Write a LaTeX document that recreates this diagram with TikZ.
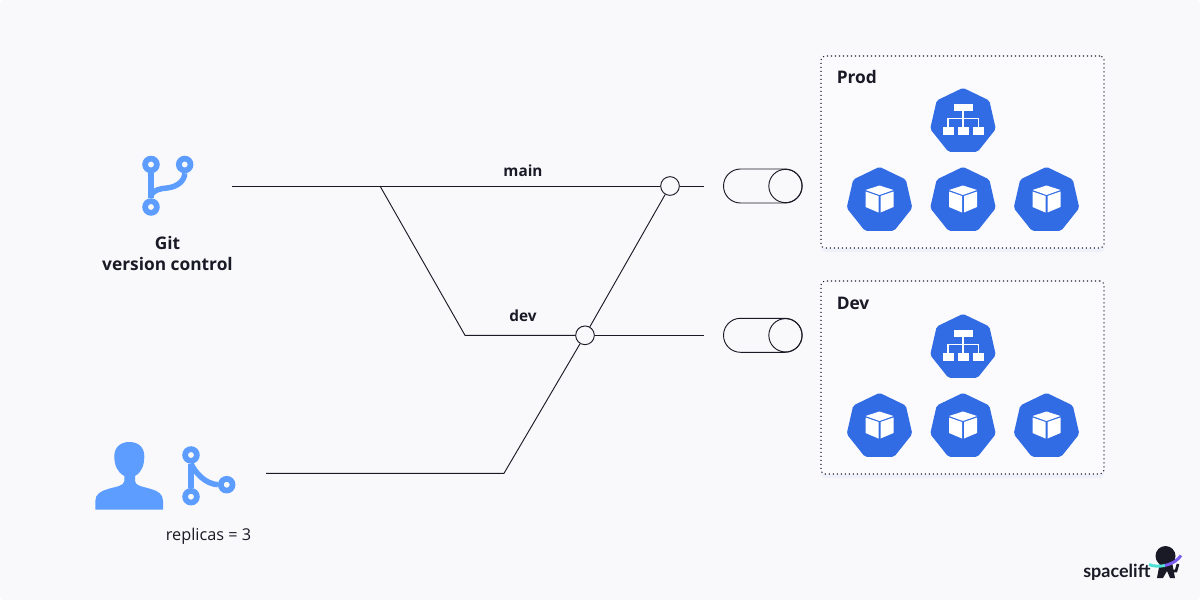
\documentclass[tikz,border=0pt]{standalone}
\usepackage{fontspec}
\setmainfont{Open Sans}
\newfontfamily\logofont{Lato}
\usetikzlibrary{shapes.geometric,shadows}
\definecolor{pagebg}{HTML}{F9F9FC}
\definecolor{boxbg}{HTML}{FBFBFE}
\definecolor{inkdark}{HTML}{1A1A26}
\definecolor{gitblue}{HTML}{5C9DFF}
\definecolor{kubeblue}{HTML}{326CE5}
\definecolor{logoteal}{HTML}{4FE0D6}
\definecolor{logopurple}{HTML}{7A5CF0}
\tikzset{
  podhept/.style={regular polygon, regular polygon sides=7, fill=kubeblue, minimum size=50.5pt, inner sep=0pt, outer sep=0pt, rounded corners=1.5pt},
  envbox/.style={draw=inkdark, fill=boxbg, dash pattern=on .8pt off 2.2pt, line width=.8pt, rounded corners=3pt, drop shadow={shadow xshift=0pt, shadow yshift=-3pt, opacity=.05, fill=kubeblue}},
  junction/.style={circle, draw=inkdark, fill=pagebg, line width=.7pt, minimum size=14pt, inner sep=0pt},
  capsule/.style={draw=inkdark, line width=.7pt, rounded corners=12.75pt},
  tankend/.style={circle, draw=inkdark, line width=.7pt, minimum size=25pt, inner sep=0pt},
  wire/.style={draw=inkdark, line width=.7pt},
  gitring/.style={circle, draw=gitblue, line width=4.3pt, fill=pagebg, minimum size=8.8pt, inner sep=0pt},
  gitstem/.style={draw=gitblue, line width=4.1pt},
  boldlabel/.style={font=\bfseries\fontsize{11.5}{15.75}\selectfont, text=inkdark, align=center},
  biglabel/.style={font=\bfseries\fontsize{13}{15.75}\selectfont, text=inkdark, align=center},
  cubeicon/.pic={
    \fill[white] (0,-15) -- (-14,-10.5) -- (0,-5.5) -- (14,-10.5) -- cycle;
    \fill[white] (-14,-9) -- (-1,-4.5) -- (-1,12) -- (-14,6.5) -- cycle;
    \fill[white] (14,-9) -- (1,-4.5) -- (1,12) -- (14,6.5) -- cycle;
  },
  treeicon/.pic={
    \fill[white] (-9,-18) rectangle (9.5,-10.5);
    \fill[white] (-20.5,5) rectangle (-9,13);
    \fill[white] (-5.5,5) rectangle (6,13);
    \fill[white] (9.5,5) rectangle (21,13);
    \draw[white, line width=1pt] (0,-11) -- (0,-3) (-15,5) -- (-15,-3) -- (15.2,-3) -- (15.2,5) (0,-3) -- (0,5);
  }
}
\begin{document}
\begin{tikzpicture}[x=.75pt, y=-.75pt]
   \useasboundingbox (0,0) rectangle (1200,600);
   \fill[white] (0,0) rectangle (1200,600);
   \fill[pagebg, rounded corners=3pt] (0,0) rectangle (1200,600);

   % environments
   \node[envbox, minimum width=212.25pt, minimum height=144pt, inner sep=0pt] (prodbox) at (962.5,152) {};
   \node[envbox, minimum width=212.25pt, minimum height=144.75pt, inner sep=0pt] (devbox) at (962.5,377.5) {};
   \node[biglabel, anchor=base west, inner sep=0pt] (prodlabel) at (836.5,83) {Prod};
   \node[biglabel, anchor=base west, inner sep=0pt] (devlabel) at (836.5,309) {Dev};

   \node[podhept] (prodlb) at (963,121.5) {};
   \node[podhept] (prodA) at (879.5,200.5) {};
   \node[podhept] (prodB) at (963,200.5) {};
   \node[podhept] (prodC) at (1046.5,200.5) {};
   \node[podhept] (devlb) at (963,347.5) {};
   \node[podhept] (devA) at (879.5,426.5) {};
   \node[podhept] (devB) at (963,426.5) {};
   \node[podhept] (devC) at (1046.5,426.5) {};
   \pic at (prodlb) {treeicon};
   \pic at (prodA) {cubeicon};
   \pic at (prodB) {cubeicon};
   \pic at (prodC) {cubeicon};
   \pic at (devlb) {treeicon};
   \pic at (devA) {cubeicon};
   \pic at (devB) {cubeicon};
   \pic at (devC) {cubeicon};

   % branches
   \coordinate (mainstart) at (232,186);
   \coordinate (fork) at (380,186);
   \coordinate (mainend) at (704,186);
   \coordinate (devbend) at (465,335.3);
   \coordinate (devend) at (704,335.3);
   \coordinate (userstart) at (266,473.3);
   \coordinate (userbend) at (504,473.3);
   \node[junction] (mainmerge) at (670,186) {};
   \node[junction] (devmerge) at (585,335.3) {};
   \draw[wire] (mainstart) -- (mainmerge);
   \draw[wire] (mainmerge) -- (mainend);
   \draw[wire] (fork) -- (devbend) -- (devmerge);
   \draw[wire] (devmerge) -- (devend);
   \draw[wire] (userstart) -- (userbend) -- (devmerge);
   \draw[wire] (devmerge) -- (mainmerge);
   \node[boldlabel] (mainlabel) at (523,170.5) {main};
   \node[boldlabel] (devbranch) at (523,315.5) {dev};

   % tanks
   \draw[capsule] (723.5,169) rectangle (802,203);
   \node[tankend] (maintank) at (785.5,186) {};
   \draw[capsule] (723.5,318.3) rectangle (802,352.3);
   \node[tankend] (devtank) at (785.5,335.3) {};

   % git icon
   \node[gitring] (gitA) at (151,164.5) {};
   \node[gitring] (gitB) at (184.7,164.5) {};
   \node[gitring] (gitC) at (151,207) {};
   \draw[gitstem] (gitA) -- (gitC);
   \draw[gitstem] (gitB.south) .. controls (184.7,181) and (177,187) .. (167,188) .. controls (160,188.5) and (154,190) .. (151,195);
   \node[biglabel] (gitlabel) at (167.5,253.5) {Git\\version control};

   % user icon
   \fill[gitblue] (95.3,509.5) -- (95.3,501) .. controls (95.3,494) and (101,491) .. (108,489) .. controls (116,486.5) and (124.3,486) .. (124.3,481) -- (124.3,476) .. controls (117,472) and (114.3,465) .. (114.3,456) .. controls (114.3,447) and (121,442) .. (129.3,442) .. controls (138,442) and (144.3,447) .. (144.3,456) .. controls (144.3,465) and (142,472) .. (135,476) -- (135,481) .. controls (135,486) and (143,486.5) .. (151,489) .. controls (158,491) and (163,494) .. (163,501) -- (163,509.5) -- cycle;
   \node[gitring] (forkA) at (191,455) {};
   \node[gitring] (forkB) at (191,496.7) {};
   \node[gitring] (forkC) at (226.7,484.7) {};
   \draw[gitstem] (forkA) -- (forkB);
   \draw[gitstem] (forkA.south) .. controls (196,474) and (206,484) .. (forkC.west);
   \node[font=\fontsize{12.2}{15.75}\selectfont, text=inkdark] (replicas) at (208.5,536.5) {replicas = 3};

   % logo
   \node[font=\logofont\fontsize{13.5}{16}\selectfont\bfseries, text=inkdark, anchor=base west, inner sep=0pt] (logotext) at (1083,577.5) {spacelift};
   \fill[inkdark] (1165.5,556) circle (10);
   \fill[inkdark] (1157,578) -- (1160,562) -- (1172,562) -- (1175,578) -- (1170,578) -- (1167,571) -- (1163,578) -- cycle;
   \draw[inkdark, line width=2pt] (1172,571) -- (1176,571) -- (1178,564);
   \draw[logoteal, line width=2.2pt] (1149,564.5) .. controls (1153,566.5) and (1160,566.5) .. (1165,565.5);
   \draw[logopurple, line width=2.2pt] (1165,565.5) .. controls (1172,564) and (1178,560) .. (1181,555.5);
\end{tikzpicture}
\end{document}
